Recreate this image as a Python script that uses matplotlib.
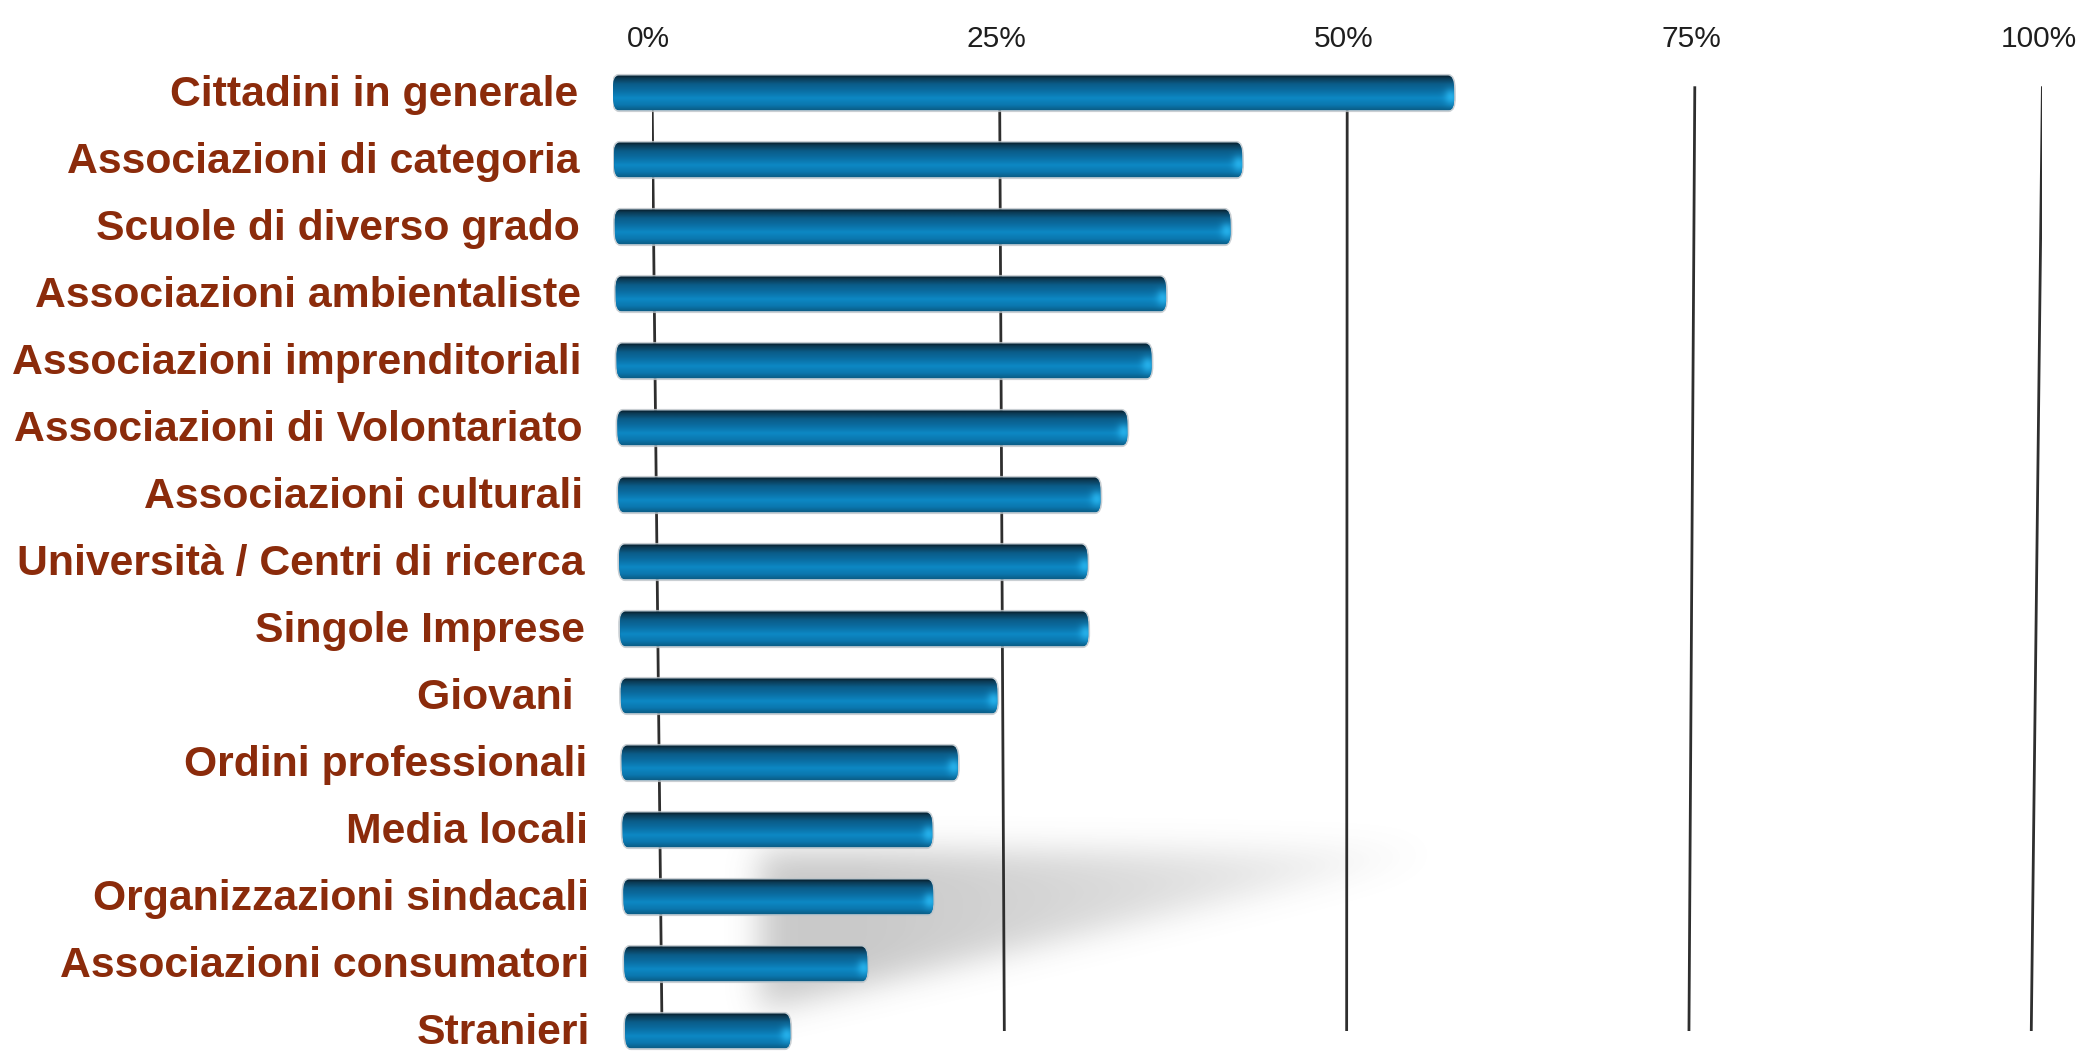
import numpy as np
import matplotlib
matplotlib.use("Agg")
import matplotlib.pyplot as plt
from matplotlib.transforms import Affine2D
from matplotlib.patches import FancyBboxPatch

# ---------------- data ----------------
categories = [
    "Cittadini in generale",
    "Associazioni di categoria",
    "Scuole di diverso grado",
    "Associazioni ambientaliste",
    "Associazioni imprenditoriali",
    "Associazioni di Volontariato",
    "Associazioni culturali",
    "Università / Centri di ricerca",
    "Singole Imprese",
    "Giovani ",
    "Ordini professionali",
    "Media locali",
    "Organizzazioni sindacali",
    "Associazioni consumatori",
    "Stranieri",
]
values = [60.5, 45.2, 44.3, 39.6, 38.5, 36.7, 34.7, 33.7, 33.7, 27.1, 24.2, 22.3, 22.3, 17.5, 11.9]
tick_values = [0, 25, 50, 75, 100]
tick_labels = ["0%", "25%", "50%", "75%", "100%"]

# ---------------- layout ----------------
W, H, DPI = 2083, 1054, 100
fig = plt.figure(figsize=(W / DPI, H / DPI), dpi=DPI)
fig.patch.set_facecolor("white")

PX_PER_UNIT = 13.904
ROW0, ROW_STEP = 93, 67
Y_TOP_LIM, Y_BOT_LIM = -1.0, 14.3
ax_top_px = ROW0 + ROW_STEP * Y_TOP_LIM
ax_bot_px = ROW0 + ROW_STEP * Y_BOT_LIM


def axrect(left_px):
    return [left_px / W, (H - ax_bot_px) / H, 100 * PX_PER_UNIT / W, (ax_bot_px - ax_top_px) / H]


ax_back = fig.add_axes(axrect(652))    # back wall: gridlines, shadow, tick labels
ax_front = fig.add_axes(axrect(613))   # front plane: cylinders and labels
for ax in (ax_back, ax_front):
    ax.axis("off")

# slight perspective skew of the front plane
k = 12.0 / 938.0
y_ref = H - ROW0
skew = Affine2D().translate(0, -y_ref).skew(np.arctan(-k), 0).translate(0, y_ref)
trans_front = ax_front.transData + skew

# ---------------- shadow on the floor ----------------
sx0, sx1, sr0, sr1 = 0.0, 65.0, 10.0, 15.0
nx = int((sx1 - sx0) * PX_PER_UNIT)
ny = int((sr1 - sr0) * ROW_STEP)
xs = 652 + np.linspace(sx0, sx1, nx) * PX_PER_UNIT
ys = ROW0 + np.linspace(sr0, sr1, ny) * ROW_STEP
X, Y = np.meshgrid(xs, ys)
Ax, Ay, Bx, Cy = 760.0, 852.0, 1440.0, 1010.0
mask = ((X >= Ax) & (Y >= Ay) & ((X - Ax) / (Bx - Ax) + (Y - Ay) / (Cy - Ay) <= 1.0)).astype(float)
sig = 16.0
kx = np.arange(-50, 51)
kern = np.exp(-0.5 * (kx / sig) ** 2)
kern /= kern.sum()
blur = np.apply_along_axis(lambda r: np.convolve(r, kern, mode="same"), 1, mask)
blur = np.apply_along_axis(lambda c: np.convolve(c, kern, mode="same"), 0, blur)
fade = np.clip(1.0 - (X - 860.0) / 600.0, 0, 1) ** 0.7
alpha = 0.34 * blur * np.where(X < 860, 1.0, fade)
shadow = np.zeros((ny, nx, 4))
shadow[..., :3] = 0.38
shadow[..., 3] = alpha
ax_back.imshow(shadow, extent=(sx0, sx1, sr1, sr0), origin="upper", aspect="auto",
               interpolation="bilinear", zorder=1)

# ---------------- gridlines (back wall, converging slightly) ----------------
g_top, g_bot = -0.1, 14.0
for v in tick_values:
    vb = v + 0.72 - 0.0152 * v
    ax_back.plot([v, vb], [g_top, g_bot], color="#2e2e2e", lw=2.0, zorder=2, solid_capstyle="butt")

for v, lab in zip(tick_values, tick_labels):
    ax_back.text(v - 0.25, -0.8, lab, ha="center", va="center", fontsize=21.5,
                 color="#1e1e1e", family="Liberation Sans")

# ---------------- cylinders ----------------
rows = np.arange(len(categories))
bar_h = 0.52
bars = ax_front.barh(rows, values, height=bar_h, color="#0a6fa3", zorder=3)

stops = np.array([0.0, 0.08, 0.25, 0.45, 0.66, 0.86, 1.0])
cols = np.array([
    [0x08, 0x1c, 0x28],
    [0x0b, 0x38, 0x52],
    [0x0b, 0x5c, 0x88],
    [0x0a, 0x6e, 0xa3],
    [0x0d, 0x88, 0xc4],
    [0x0b, 0x77, 0xae],
    [0x0a, 0x5e, 0x88],
]) / 255.0
nv = 64
tv = np.linspace(0, 1, nv)
vert = np.stack([np.interp(tv, stops, cols[:, c]) for c in range(3)], axis=1)
hi_col = np.array([0x2c, 0xbc, 0xf6]) / 255.0
vweight = np.exp(-((tv - 0.62) / 0.22) ** 2)

r_x = 0.42
r_y = 0.2
for bar in bars:
    x0, y0, w, h = bar.get_x(), bar.get_y(), bar.get_width(), bar.get_height()
    bar.set_transform(trans_front)
    rp = FancyBboxPatch((x0, y0), w, h,
                        boxstyle=f"round,pad=0,rounding_size={r_x}",
                        mutation_aspect=r_y / r_x,
                        transform=trans_front, fc="none",
                        ec=(0.74, 0.77, 0.79, 0.8), lw=2.4, zorder=2)
    ax_front.add_patch(rp)
    bar.set_clip_path(rp)
    ncol = max(int(w * PX_PER_UNIT), 10)
    xv = np.linspace(x0, x0 + w, ncol)
    hfac = np.exp(-((x0 + w - xv - 0.25) / 0.45) ** 2)
    img = np.ones((nv, ncol, 4))
    mix = 0.75 * hfac[None, :] * vweight[:, None]
    for c in range(3):
        img[..., c] = vert[:, c][:, None] * (1 - mix) + hi_col[c] * mix
    im = ax_front.imshow(img, extent=(x0, x0 + w, y0 + h, y0), origin="upper",
                         aspect="auto", interpolation="bilinear", zorder=4,
                         transform=trans_front)
    im.set_clip_path(rp)

# ---------------- category labels ----------------
for r, cat in zip(rows, categories):
    ax_front.text(-2.5, r + 0.03, cat, ha="right", va="center", fontsize=30.8,
                  fontweight="bold", color="#8b2b0b", family="Liberation Sans",
                  transform=trans_front)

for ax in (ax_back, ax_front):
    ax.set_xlim(0, 100)
    ax.set_ylim(Y_BOT_LIM, Y_TOP_LIM)

fig.savefig("out.png", dpi=DPI, facecolor="white")
